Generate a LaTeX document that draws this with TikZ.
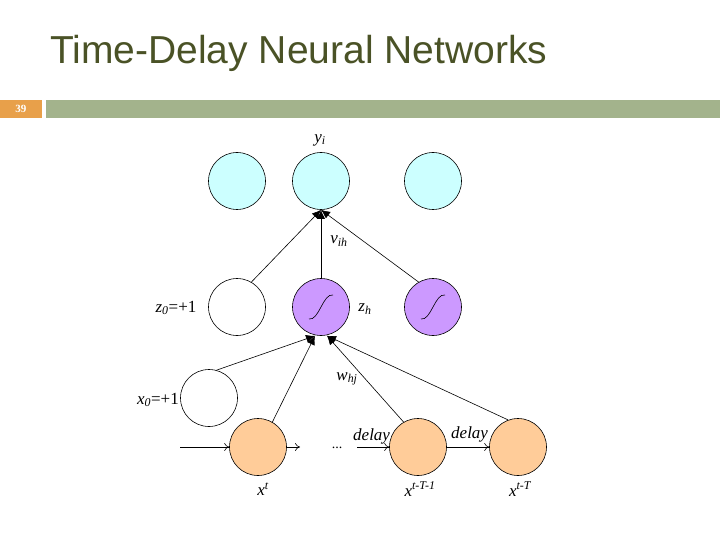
\documentclass[tikz,border=0pt]{standalone}
\usepackage{fontspec}
\setmainfont{Liberation Serif}
\newfontfamily\titlefont{Liberation Sans}
\usetikzlibrary{arrows.meta,calc}
\definecolor{cy}{HTML}{CCFFFF}
\definecolor{pu}{HTML}{CC99FF}
\definecolor{or}{HTML}{FFCC99}
\definecolor{tt}{HTML}{4A5226}
\definecolor{gb}{HTML}{A3B38C}
\definecolor{ob}{HTML}{E8A04A}
\newcommand{\sbx}[1]{\textsubscript{\itshape #1}}
\newcommand{\spx}[1]{\textsuperscript{\itshape #1}}
\begin{document}
\begin{tikzpicture}[x=1pt,y=-1pt,
  neu/.style={circle,draw,line width=0.6pt,minimum size=57pt,inner sep=0pt},
  con/.style={line width=0.6pt,-{Latex[length=9pt,width=8pt]}},
  har/.style={line width=0.6pt,-{To[length=5pt,width=8pt]}},
  lab/.style={font=\fontsize{17}{19}\selectfont\itshape,inner sep=0pt}]
\useasboundingbox (0,0) rectangle (720,540);
\node[font=\titlefont\fontsize{39}{42}\selectfont,text=tt,anchor=west,inner sep=0pt] (title) at (50,53) {Time-Delay Neural Networks};
\fill[ob] (0,100) rectangle (42,118);
\node[text=white,font=\fontsize{11}{12}\selectfont\bfseries] (pg) at (21,109) {39};
\fill[gb] (46,100) rectangle (720,118);
\node[neu,fill=cy] (o1) at (237,181) {};
\node[neu,fill=cy] (o2) at (321,181) {};
\node[neu,fill=cy] (o3) at (433,181) {};
\node[neu,fill=white] (z0) at (237,307) {};
\node[neu,fill=pu] (h1) at (321,307) {};
\node[neu,fill=pu] (h2) at (433,307) {};
\node[neu,fill=white] (x0) at (209,398) {};
\node[neu,fill=or] (i1) at (258,447) {};
\node[neu,fill=or] (i2) at (418,447) {};
\node[neu,fill=or] (i3) at (518,447) {};
\foreach \n in {h1,h2}{
  \draw[line width=0.6pt] ($(\n)+(-12,12)$) .. controls ($(\n)+(-2,14)$) and ($(\n)+(2,-14)$) .. ($(\n)+(12,-12)$);}
\draw[con] (z0.60) -- (o2.south);
\draw[con] (h1.north) -- (o2.south);
\draw[con] (h2.120) -- (o2.south);
\draw[con] (x0.75) -- ($(h1.south)+(-6,0)$);
\draw[con] (i1.60) -- ($(h1.south)+(-6,0)$);
\draw[con] (i2.120) -- ($(h1.south)+(6,0)$);
\draw[con] (i3.110) -- ($(h1.south)+(6,0)$);
\coordinate (in) at (180,447);
\coordinate (d1) at (300,447);
\coordinate (d2) at (357,447);
\node[font=\fontsize{14}{15}\selectfont] (dots) at (337,448) {...};
\draw[har] (in) -- (i1.west);
\draw[har] (i1.east) -- (d1);
\draw[har] (d2) -- (i2.west);
\draw[har] (i2.east) -- (i3.west);
\node[lab] (ly) at (320,140) {y\sbx{i}};
\node[lab] (lv) at (339,241) {v\sbx{ih}};
\node[lab] (lz0) at (176,308) {z\sbx{0}\upshape =+1};
\node[lab] (lzh) at (365,309) {z\sbx{h}};
\node[lab] (lx0) at (158,400) {x\sbx{0}\upshape =+1};
\node[lab] (lw) at (347,379) {w\sbx{hj}};
\node[lab,anchor=west] (dl1) at (353,436) {delay};
\node[lab,anchor=west] (dl2) at (451,434) {delay};
\node[lab] (lx1) at (263,489) {x\spx{t}};
\node[lab] (lx2) at (420,489) {x\spx{t-T-1}};
\node[lab] (lx3) at (520,489) {x\spx{t-T}};
\end{tikzpicture}
\end{document}
